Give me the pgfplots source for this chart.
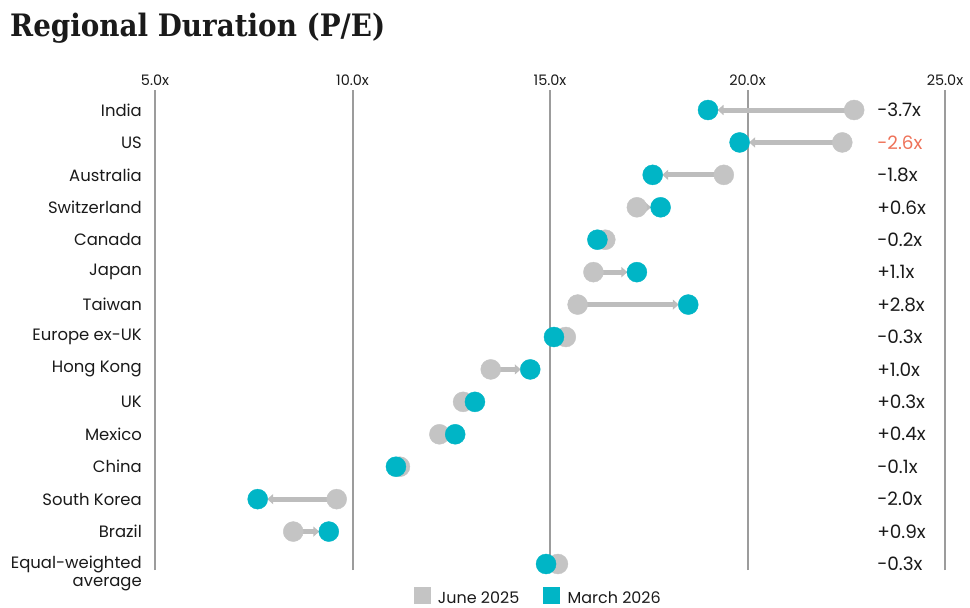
\documentclass[border=0pt]{standalone}
\usepackage{fontspec}
\setmainfont{Poppins}
\newfontfamily\titlefont{DejaVu Serif Condensed}
\usepackage{pgfplots}
\usepackage{pgfplotstable}
\pgfplotsset{compat=1.18}
\usetikzlibrary{arrows.meta}

\definecolor{marteal}{HTML}{00B5C6}
\definecolor{jungray}{HTML}{C4C4C4}
\definecolor{arrowgray}{HTML}{BDBDBD}
\definecolor{gridgray}{HTML}{9C9C9C}
\definecolor{txt}{HTML}{1A1A1A}
\definecolor{redlbl}{HTML}{EE7259}

% y: row (India at top = 14), jun = June 2025, mar = March 2026
\pgfplotstableread{
y  jun   mar
14 22.7  19.0
13 22.4  19.8
12 19.4  17.6
11 17.2  17.8
10 16.4  16.2
9  16.1  17.2
8  15.7  18.5
7  15.4  15.1
6  13.5  14.5
5  12.8  13.1
4  12.2  12.6
3  11.2  11.1
2  9.6   7.6
1  8.5   9.4
0  15.2  14.9
}\pedata

\tikzset{arr/.style={arrowgray, line width=5bp, -{Triangle[length=6bp,width=10bp]}, shorten >=9.5bp}}

\begin{document}
\begin{tikzpicture}
\path[use as bounding box] (0,0) rectangle (970bp,608bp);
\node[anchor=base west, inner sep=0pt, text=txt,
      font=\titlefont\bfseries\fontsize{31}{34}\selectfont] at (10bp,571bp) {Regional Duration (P/E)};
\begin{axis}[
    at={(155bp,38bp)}, anchor=south west,
    scale only axis, width=790bp, height=480bp,
    xmin=5, xmax=25, ymin=-0.185, ymax=14.617,
    axis line style={draw=none},
    major tick length=0pt,
    xtick={5,10,15,20,25},
    xticklabels={5.0x,10.0x,15.0x,20.0x,25.0x},
    xticklabel pos=upper,
    xticklabel shift=4bp,
    xmajorgrids,
    grid style={gridgray, line width=2bp},
    ytick={0,...,14},
    yticklabels={Equal-weighted,
        Brazil,South Korea,China,Mexico,UK,Hong Kong,Europe ex-UK,Taiwan,Japan,Canada,
        Switzerland,Australia,US,India},
    yticklabel shift=13bp,
    tick label style={inner sep=0pt, text=txt},
    xticklabel style={font=\fontsize{14.5}{16}\selectfont},
    yticklabel style={font=\fontsize{16.5}{18}\selectfont},
    clip=false,
    legend style={at={(0.485,-0.056)}, anchor=center, draw=none, fill=none,
        legend columns=2, font=\fontsize{16}{18}\selectfont, text=txt,
        /tikz/every odd column/.append style={column sep=6bp},
        /tikz/every even column/.append style={column sep=22bp}},
]
% arrows from June 2025 to March 2026
\addplot[arr, forget plot] coordinates {(22.7,14) (19.0,14)};
\addplot[arr, forget plot] coordinates {(22.4,13) (19.8,13)};
\addplot[arr, forget plot] coordinates {(19.4,12) (17.6,12)};
\addplot[arr, forget plot] coordinates {(17.2,11) (17.8,11)};
\addplot[arr, forget plot] coordinates {(16.1,9) (17.2,9)};
\addplot[arr, forget plot] coordinates {(15.7,8) (18.5,8)};
\addplot[arr, forget plot] coordinates {(13.5,6) (14.5,6)};
\addplot[arr, forget plot] coordinates {(9.6,2) (7.6,2)};
\addplot[arr, forget plot] coordinates {(8.5,1) (9.4,1)};
% dots
\addplot[only marks, mark=*, mark size=10bp, color=jungray, mark options={draw=none}, forget plot]
    table[x=jun, y=y] {\pedata};
\addplot[only marks, mark=*, mark size=10bp, color=marteal, mark options={draw=none}, forget plot]
    table[x=mar, y=y] {\pedata};
% legend
\addlegendimage{legend image code/.code={\fill[jungray] (0bp,-5bp) rectangle (16bp,11bp);}}
\addlegendentry{June 2025}
\addlegendimage{legend image code/.code={\fill[marteal] (0bp,-5bp) rectangle (16bp,11bp);}}
\addlegendentry{March 2026}
% second line of the last category label
\node[anchor=east, inner sep=0pt, text=txt, font=\fontsize{16.5}{18}\selectfont]
    at ([xshift=-13bp, yshift=-20bp]axis cs:5,0) {average};
% change labels
\begin{scope}[every node/.style={anchor=west, inner sep=0pt, text=txt, font=\fontsize{18.5}{20}\selectfont}]
\node at (axis cs:23.28,14) {-3.7x};
\node[text=redlbl] at (axis cs:23.28,13) {-2.6x};
\node at (axis cs:23.28,12) {-1.8x};
\node at (axis cs:23.28,11) {+0.6x};
\node at (axis cs:23.28,10) {-0.2x};
\node at (axis cs:23.28,9) {+1.1x};
\node at (axis cs:23.28,8) {+2.8x};
\node at (axis cs:23.28,7) {-0.3x};
\node at (axis cs:23.28,6) {+1.0x};
\node at (axis cs:23.28,5) {+0.3x};
\node at (axis cs:23.28,4) {+0.4x};
\node at (axis cs:23.28,3) {-0.1x};
\node at (axis cs:23.28,2) {-2.0x};
\node at (axis cs:23.28,1) {+0.9x};
\node at (axis cs:23.28,0) {-0.3x};
\end{scope}
\end{axis}
\end{tikzpicture}
\end{document}
